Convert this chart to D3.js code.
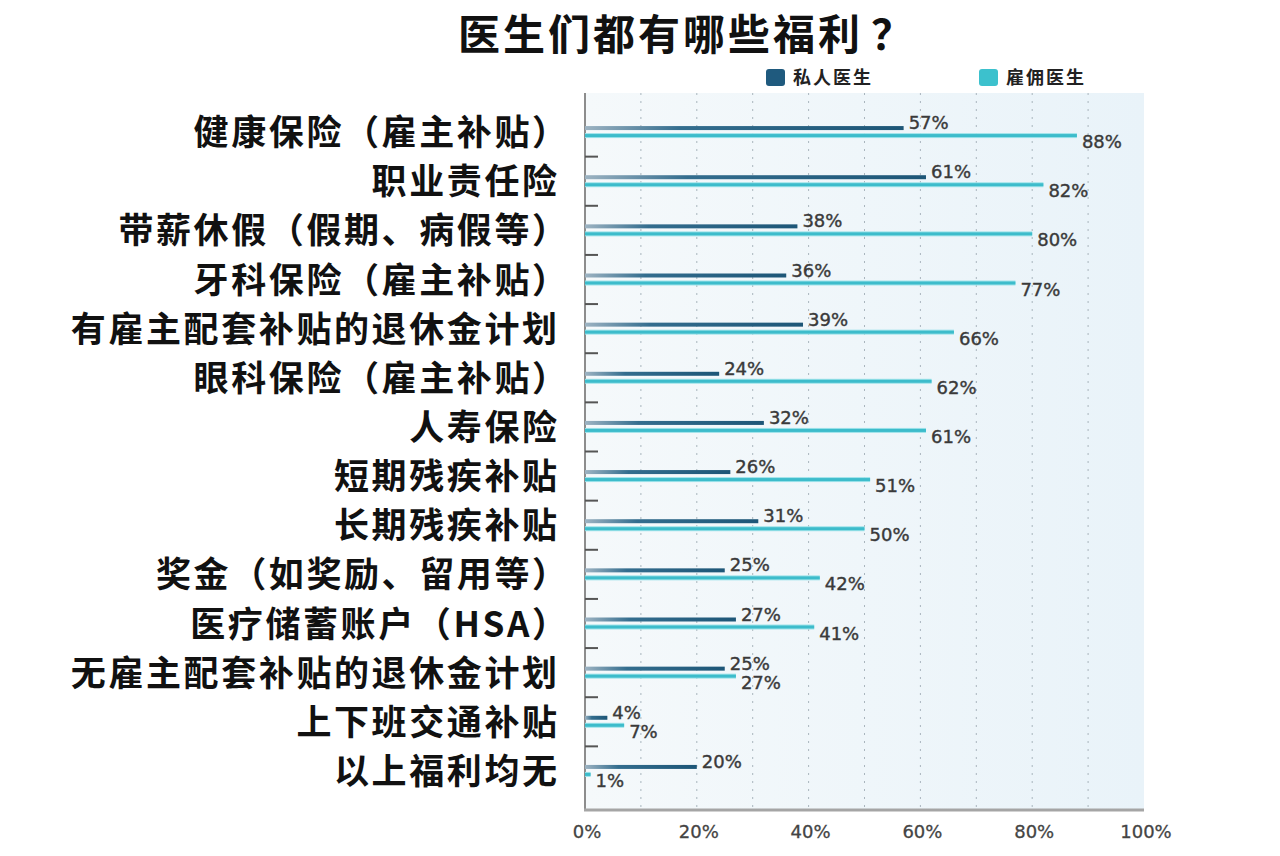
<!DOCTYPE html>
<html><head><meta charset="utf-8">
<script src="https://cdn.jsdelivr.net/npm/d3@7"></script>
<style>body{margin:0;background:#fff;} svg{display:block;font-family:"Noto Sans CJK SC","Noto Sans",sans-serif;}</style>
</head><body>
<svg id="chart" width="1280" height="856"></svg>
<script>
const categories = ["健康保险（雇主补贴）","职业责任险","带薪休假（假期、病假等）","牙科保险（雇主补贴）","有雇主配套补贴的退休金计划","眼科保险（雇主补贴）","人寿保险","短期残疾补贴","长期残疾补贴","奖金（如奖励、留用等）","医疗储蓄账户（HSA）","无雇主配套补贴的退休金计划","上下班交通补贴","以上福利均无"];
const privateDoc = [57,61,38,36,39,24,32,26,31,25,27,25,4,20];
const employedDoc = [88,82,80,77,66,62,61,51,50,42,41,27,7,1];
const seriesNames = ["私人医生","雇佣医生"];
const xTicks = [0,20,40,60,80,100];
const gridTicks = [10,20,30,40,50,60,70,80,90];

const svg = d3.select("#chart");
const x = d3.scaleLinear().domain([0,100]).range([585,1144]);
const y = d3.scaleBand().domain(categories).range([107.5,795.5]);
const plotTop = 93, plotBottom = 810;
const numFont = "'DejaVu Sans', sans-serif";

const defs = svg.append("defs");
const g1 = defs.append("linearGradient").attr("id","gDark").attr("x1","0").attr("x2","1");
g1.append("stop").attr("offset","0").attr("stop-color","#9db3c2");
g1.append("stop").attr("offset","0.3").attr("stop-color","#336d8e");
g1.append("stop").attr("offset","1").attr("stop-color","#1d5677");
const bg = defs.append("linearGradient").attr("id","gBg").attr("x1","0").attr("x2","1");
bg.append("stop").attr("offset","0").attr("stop-color","#f5f9fb");
bg.append("stop").attr("offset","1").attr("stop-color","#e9f3f9");

// title
const title = svg.append("text").attr("x",458).attr("y",50).attr("text-anchor","start")
  .attr("font-size",42).attr("font-weight",700).attr("letter-spacing",3).attr("fill","#111");
title.append("tspan").text("医生们都有哪些福利");
title.append("tspan").attr("dx",8).text("？");

// legend
const legend = [{name:seriesNames[0],color:"#1f5a7e",x:766},{name:seriesNames[1],color:"#3cc1cd",x:979}];
legend.forEach(l=>{
  svg.append("rect").attr("x",l.x).attr("y",69).attr("width",19).attr("height",17).attr("rx",3).attr("fill",l.color);
  svg.append("text").attr("x",l.x+27).attr("y",84).attr("font-size",18).attr("letter-spacing",2)
    .attr("font-weight",700).attr("fill","#222").text(l.name);
});

// plot background
svg.append("rect").attr("x",x(0)).attr("y",plotTop).attr("width",x(100)-x(0)).attr("height",plotBottom-plotTop).attr("fill","url(#gBg)");

// grid lines
svg.append("g").selectAll("line").data(gridTicks).join("line")
  .attr("x1",d=>x(d)).attr("x2",d=>x(d)).attr("y1",plotTop).attr("y2",plotBottom)
  .attr("stroke","#a9b5bd").attr("stroke-width",1).attr("stroke-dasharray","2,6");

// left axis line and ticks
svg.append("line").attr("x1",x(0)).attr("x2",x(0)).attr("y1",plotTop).attr("y2",plotBottom)
  .attr("stroke","#8d8d8d").attr("stroke-width",2);
const boundaries = categories.slice(1).map(c=>y(c));
svg.append("g").selectAll("line").data(boundaries).join("line")
  .attr("x1",x(0)).attr("x2",x(0)+13).attr("y1",d=>d).attr("y2",d=>d)
  .attr("stroke","#555").attr("stroke-width",2);

// bottom axis
svg.append("line").attr("x1",x(0)-1).attr("x2",x(100)).attr("y1",plotBottom).attr("y2",plotBottom)
  .attr("stroke","#a5a5a5").attr("stroke-width",3);
svg.append("g").selectAll("text").data(xTicks).join("text")
  .attr("x",d=>x(d)+2).attr("y",838).attr("text-anchor","middle").attr("font-size",18)
  .attr("font-family",numFont).attr("fill","#444").attr("stroke","#444").attr("stroke-width",0.3).text(d=>d+"%");

// category labels
const LS = 2.6;
svg.append("g").selectAll("text").data(categories).join("text")
  .attr("x",d=>557 + LS + (d.endsWith("）") ? 10 : 0))
  .attr("y",d=>y(d)+y.bandwidth()/2+13).attr("text-anchor","end")
  .attr("font-size",35).attr("font-weight",700).attr("letter-spacing",LS).attr("fill","#111")
  .text(d=>d);

const mid = d => y(d)+y.bandwidth()/2;
// private bars
svg.append("g").selectAll("rect").data(categories).join("rect")
  .attr("x",x(0)).attr("y",(d)=>mid(d)-6).attr("width",(d,i)=>x(privateDoc[i])-x(0)).attr("height",4)
  .attr("fill","url(#gDark)");
// employed bars
svg.append("g").selectAll("rect").data(categories).join("rect")
  .attr("x",x(0)).attr("y",(d)=>mid(d)+1).attr("width",(d,i)=>Math.max(2,x(employedDoc[i])-x(0))).attr("height",5)
  .attr("fill","#9fe3ea");
svg.append("g").selectAll("rect").data(categories).join("rect")
  .attr("x",x(0)).attr("y",(d)=>mid(d)+2).attr("width",(d,i)=>Math.max(2,x(employedDoc[i])-x(0))).attr("height",3)
  .attr("fill","#3dbccb");

// value labels
svg.append("g").selectAll("text").data(categories).join("text")
  .attr("x",(d,i)=>x(privateDoc[i])+5).attr("y",d=>mid(d)-3)
  .attr("font-size",18).attr("font-family",numFont).attr("fill","#3a3a3a").attr("stroke","#3a3a3a").attr("stroke-width",0.4)
  .text((d,i)=>privateDoc[i]+"%");
svg.append("g").selectAll("text").data(categories).join("text")
  .attr("x",(d,i)=>x(employedDoc[i])+5).attr("y",d=>mid(d)+16)
  .attr("font-size",18).attr("font-family",numFont).attr("fill","#3a3a3a").attr("stroke","#3a3a3a").attr("stroke-width",0.4)
  .text((d,i)=>employedDoc[i]+"%");
</script>
</body></html>
